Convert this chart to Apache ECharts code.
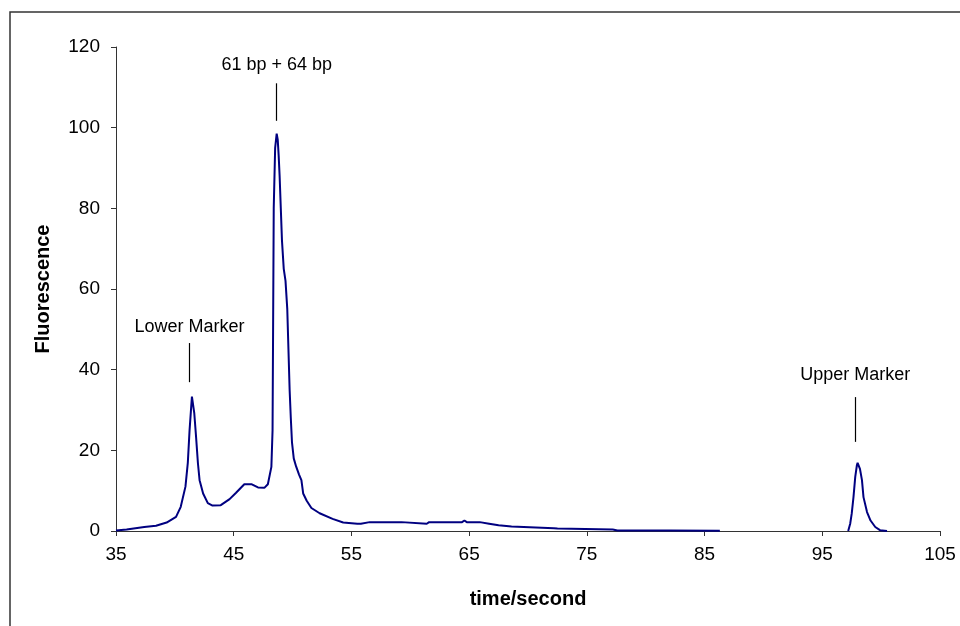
<!DOCTYPE html>
<html><head><meta charset="utf-8">
<script src="https://cdn.jsdelivr.net/npm/echarts@6/dist/echarts.min.js"></script>
<style>html,body{margin:0;padding:0;background:#fff}#c{width:960px;height:626px}</style>
</head><body><div id="c"></div>
<script>
// time (s)
const times = [35, 35.9, 37.4, 38.4, 39.3, 40.1, 40.5, 40.9, 41.1, 41.25, 41.36, 41.45, 41.55, 41.65, 41.8, 41.96, 42.1, 42.4, 42.8, 43.2, 43.9, 44.65, 45.2, 45.9, 46.5, 47.06, 47.6, 47.9, 48.2, 48.3, 48.4, 48.52, 48.65, 48.74, 48.82, 48.9, 49.0, 49.1, 49.25, 49.4, 49.55, 49.65, 49.75, 49.85, 49.95, 50.1, 50.3, 50.55, 50.75, 50.9, 51.2, 51.6, 52.3, 53.4, 54.3, 55.5, 55.6, 55.8, 56.55, 59.25, 59.4, 61.4, 61.6, 64.4, 64.6, 64.8, 65.9, 66.0, 66.7, 66.8, 67.5, 67.6, 68.6, 68.7, 72.2, 72.3, 72.5, 72.6, 77.2, 77.6, 82, 86.3, 90, 97.2, 97.37, 97.5, 97.65, 97.8, 97.94, 98.0, 98.2, 98.37, 98.5, 98.8, 99.1, 99.5, 99.9, 100.5];
// fluorescence
const fluorescence = [0.1, 0.4, 1.0, 1.3, 2.1, 3.5, 6, 11, 16.9, 25, 29.6, 33.3, 33, 29.2, 23.4, 16.8, 12.6, 9.3, 6.9, 6.3, 6.4, 7.9, 9.5, 11.6, 11.6, 10.8, 10.7, 11.6, 15.9, 25, 80, 95, 98.5, 97, 93, 88, 80, 72, 65, 62, 55, 45, 35, 28, 22, 18, 16, 14, 12.6, 9.3, 7.5, 5.7, 4.4, 3.0, 2.1, 1.8, 1.6, 1.8, 2.2, 2.2, 1.8, 1.8, 2.2, 2.2, 2.6, 2.2, 2.2, 1.8, 1.8, 1.4, 1.4, 1.1, 1.1, 0.7, 0.7, 0.3, 0.6, 0.35, 0.35, 0.15, 0.1, 0.05, null, 0, 1.8, 4.3, 8.4, 13.4, 16.3, 16.9, 15.4, 12.6, 8.4, 4.7, 2.6, 1.0, 0.2, 0];

const annoLabels = ['Lower Marker', '61 bp + 64 bp', 'Upper Marker'];
const annoX = [41.25, 48.65, 97.8];
const annoLineFrom = [36.9, 101.7, 22.1];
const annoLineTo = [46.6, 111, 33.2];
const annoTextY = [50.6, 115.5, 38.7];

const FONT = 'Liberation Sans, Arial, sans-serif';
const chart = echarts.init(document.getElementById('c'));
const axisCol = '#333';
chart.setOption({
  animation: false,
  backgroundColor: '#fff',
  grid: {left: 116, right: 20, top: 47, bottom: 95},
  graphic: [{type: 'rect', shape: {x: 10, y: 12, width: 1000, height: 700}, style: {fill: 'none', stroke: '#333', lineWidth: 1.5}, silent: true}],
  xAxis: {
    type: 'value', min: 35, max: 105, interval: 10,
    name: 'time/second', nameLocation: 'middle', nameGap: 58,
    nameTextStyle: {fontFamily: FONT, fontSize: 20, fontWeight: 'bold', color: '#000'},
    axisLine: {lineStyle: {color: axisCol, width: 1}},
    axisTick: {show: true, length: 5, lineStyle: {color: axisCol}},
    axisLabel: {fontFamily: FONT, fontSize: 19, color: '#000', margin: 14},
    splitLine: {show: false}
  },
  yAxis: {
    type: 'value', min: 0, max: 120, interval: 20,
    name: 'Fluorescence', nameLocation: 'middle', nameGap: 63,
    nameTextStyle: {fontFamily: FONT, fontSize: 20, fontWeight: 'bold', color: '#000'},
    axisLine: {show: true, lineStyle: {color: axisCol, width: 1}},
    axisTick: {show: true, length: 5, lineStyle: {color: axisCol}},
    axisLabel: {fontFamily: FONT, fontSize: 19, color: '#000', margin: 16},
    splitLine: {show: false}
  },
  series: [{
    type: 'line',
    data: times.map((t, i) => [t, fluorescence[i]]),
    showSymbol: false, symbol: 'none',
    connectNulls: false,
    lineStyle: {color: '#000080', width: 2},
    markLine: {
      silent: true, symbol: 'none', animation: false,
      lineStyle: {color: '#000', width: 1.2, type: 'solid'},
      label: {show: false},
      data: annoX.map((x, i) => [{coord: [x, annoLineFrom[i]]}, {coord: [x, annoLineTo[i]]}])
    },
    markPoint: {
      silent: true, symbol: 'circle', symbolSize: 0, animation: false,
      label: {show: true, position: 'inside', fontFamily: FONT, fontSize: 18, color: '#000', formatter: p => p.name},
      data: annoX.map((x, i) => ({name: annoLabels[i], coord: [x, annoTextY[i]]}))
    }
  }]
});
</script></body></html>
